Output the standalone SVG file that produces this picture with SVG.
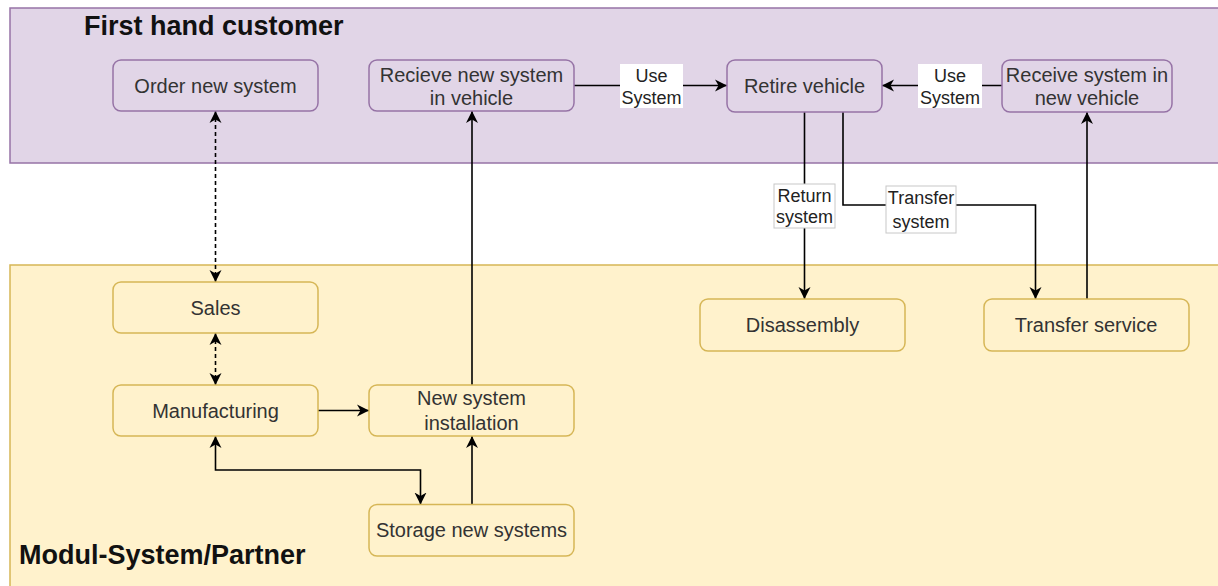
<svg xmlns="http://www.w3.org/2000/svg" width="1218" height="586" viewBox="0 0 1218 586">
  <style>
    .lane-cust { fill: #e1d5e7; stroke: #9673a6; stroke-width: 1.5; }
    .lane-part { fill: #fff2cc; stroke: #d6b656; stroke-width: 1.5; }
    .node-cust { fill: #e1d5e7; stroke: #9673a6; stroke-width: 1.5; }
    .node-part { fill: #fff2cc; stroke: #d6b656; stroke-width: 1.5; }
    .lbl { font-family: "Liberation Sans", Arial, sans-serif; font-size: 20px; fill: #333333; text-anchor: middle; }
    .title { font-family: "Liberation Sans", Arial, sans-serif; font-size: 27px; font-weight: bold; fill: #111111; }
    .edge { fill: none; stroke: #000000; stroke-width: 1.6; }
    .dash { stroke-dasharray: 4 3; }
    .elbl-bg { fill: #ffffff; }
    .elbl-box { fill: #ffffff; stroke: #c8c8c8; stroke-width: 1; }
    .elbl { font-family: "Liberation Sans", Arial, sans-serif; font-size: 18px; fill: #222222; text-anchor: middle; }
  </style>
  <defs>
    <!-- classic notched arrowhead, sized in user units -->
    <marker id="arrow" viewBox="0 0 12 13" refX="12" refY="6.5" markerWidth="12" markerHeight="13" markerUnits="userSpaceOnUse" orient="auto-start-reverse">
      <path d="M0,0.5 L12,6.5 L0,12.5 L3.5,6.5 Z" fill="#000000"/>
    </marker>
  </defs>

  <rect width="1218" height="586" fill="#ffffff"/>

  <!-- swimlanes -->
  <g id="lane-customer">
    <rect class="lane-cust" x="10" y="8" width="1220" height="155"/>
    <text class="title" x="84" y="35">First hand customer</text>
  </g>
  <g id="lane-partner">
    <rect class="lane-part" x="10" y="265" width="1220" height="330"/>
    <text class="title" x="19" y="564">Modul-System/Partner</text>
  </g>

  <!-- connectors -->
  <g id="connectors">
    <path class="edge dash" d="M215.5,111 V282" marker-start="url(#arrow)" marker-end="url(#arrow)"/>
    <path class="edge dash" d="M215.5,333 V385" marker-start="url(#arrow)" marker-end="url(#arrow)"/>
    <path class="edge" d="M318,410.5 H369" marker-end="url(#arrow)"/>
    <path class="edge" d="M215.5,436 V470 H420.5 V504.5" marker-start="url(#arrow)" marker-end="url(#arrow)"/>
    <path class="edge" d="M472,504.5 V436" marker-end="url(#arrow)"/>
    <path class="edge" d="M472,385 V111" marker-end="url(#arrow)"/>
    <path class="edge" d="M574,85.5 H727" marker-end="url(#arrow)"/>
    <path class="edge" d="M1002,85.5 H882" marker-end="url(#arrow)"/>
    <path class="edge" d="M804.5,112 V299" marker-end="url(#arrow)"/>
    <path class="edge" d="M843,112 V205 H1035.5 V299" marker-end="url(#arrow)"/>
    <path class="edge" d="M1087,299 V112" marker-end="url(#arrow)"/>

    <!-- edge labels -->
    <rect class="elbl-bg" x="620" y="64" width="63" height="44"/>
    <text class="elbl" x="651.5" y="81.5">Use</text>
    <text class="elbl" x="651.5" y="104">System</text>

    <rect class="elbl-bg" x="918" y="64" width="64" height="44"/>
    <text class="elbl" x="950" y="81.5">Use</text>
    <text class="elbl" x="950" y="104">System</text>

    <rect class="elbl-box" x="774" y="184" width="61" height="44"/>
    <text class="elbl" x="804.5" y="202">Return</text>
    <text class="elbl" x="804.5" y="223">system</text>

    <rect class="elbl-box" x="886" y="186" width="70" height="47"/>
    <text class="elbl" x="921" y="204">Transfer</text>
    <text class="elbl" x="921" y="228">system</text>
  </g>

  <!-- customer nodes -->
  <g id="order-new-system">
    <rect class="node-cust" x="113" y="60" width="205" height="51" rx="8"/>
    <text class="lbl" x="215.5" y="92.5">Order new system</text>
  </g>
  <g id="recieve-new-system">
    <rect class="node-cust" x="369" y="60" width="205" height="51" rx="8"/>
    <text class="lbl" x="471.5" y="82">Recieve new system</text>
    <text class="lbl" x="471.5" y="105">in vehicle</text>
  </g>
  <g id="retire-vehicle">
    <rect class="node-cust" x="727" y="60" width="155" height="52" rx="8"/>
    <text class="lbl" x="804.5" y="93">Retire vehicle</text>
  </g>
  <g id="receive-system-new-vehicle">
    <rect class="node-cust" x="1002" y="60" width="170" height="52" rx="8"/>
    <text class="lbl" x="1087" y="82">Receive system in</text>
    <text class="lbl" x="1087" y="105">new vehicle</text>
  </g>

  <!-- partner nodes -->
  <g id="sales">
    <rect class="node-part" x="113" y="282" width="205" height="51" rx="8"/>
    <text class="lbl" x="215.5" y="314.5">Sales</text>
  </g>
  <g id="manufacturing">
    <rect class="node-part" x="113" y="385" width="205" height="51" rx="8"/>
    <text class="lbl" x="215.5" y="417.5">Manufacturing</text>
  </g>
  <g id="new-system-installation">
    <rect class="node-part" x="369" y="385" width="205" height="51" rx="8"/>
    <text class="lbl" x="471.5" y="405">New system</text>
    <text class="lbl" x="471.5" y="429.5">installation</text>
  </g>
  <g id="storage-new-systems">
    <rect class="node-part" x="369" y="504.5" width="205" height="51.5" rx="8"/>
    <text class="lbl" x="471.5" y="537">Storage new systems</text>
  </g>
  <g id="disassembly">
    <rect class="node-part" x="700" y="299" width="205" height="52" rx="8"/>
    <text class="lbl" x="802.5" y="332">Disassembly</text>
  </g>
  <g id="transfer-service">
    <rect class="node-part" x="984" y="299" width="205" height="52" rx="8"/>
    <text class="lbl" x="1086" y="332">Transfer service</text>
  </g>
</svg>
